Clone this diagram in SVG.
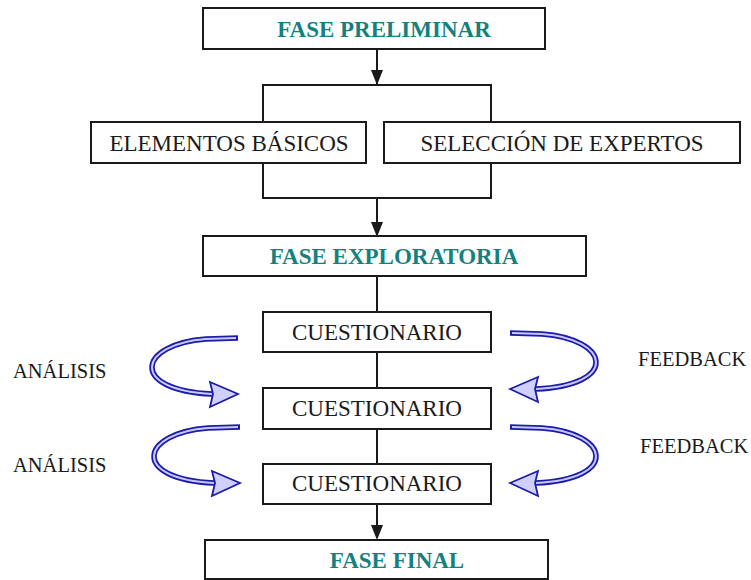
<svg xmlns="http://www.w3.org/2000/svg" width="751" height="580" viewBox="0 0 751 580">
<defs>
<style>
.box{fill:#fff;stroke:#1a1a1a;stroke-width:2}
.ln{fill:none;stroke:#1a1a1a;stroke-width:2}
.hd{font-family:"Liberation Serif","Times New Roman",serif;font-weight:bold;font-size:23px;fill:#168080;text-anchor:middle}
.tx{font-family:"Liberation Serif","Times New Roman",serif;font-size:23px;fill:#1a1a1a;text-anchor:middle}
.lb{font-family:"Liberation Serif","Times New Roman",serif;font-size:20.5px;fill:#1a1a1a}
.bo{fill:none;stroke:#1c1ca8;stroke-width:5.5;stroke-linecap:butt}
.bi{fill:none;stroke:#c8c8ff;stroke-width:2}
.ah{fill:#d0d0ff;stroke:#1c1ca8;stroke-width:1.8;stroke-linejoin:miter}
</style>
<marker id="arr" viewBox="0 0 12 14" refX="6" refY="14" markerWidth="12" markerHeight="14" markerUnits="userSpaceOnUse" orient="auto-start-reverse">
<path d="M0,0 L12,0 L6,14 Z" fill="#1a1a1a"/>
</marker>
<g id="curl">
<path class="bo" d="M238,338 L206,339 C138,344 128,390 212,394"/>
<path class="bi" d="M236,338 L206,339 C138,344 128,390 212,394"/>
<polygon class="ah" points="210,382 238,394 210,407 213,394"/>
</g>
</defs>
<rect width="751" height="580" fill="#fff"/>

<g id="connectors">
<line class="ln" x1="377" y1="49" x2="377" y2="84" style="marker-end:none"/>
<path d="M371,70 L383,70 L377,85 Z" fill="#1a1a1a"/>
<polyline class="ln" points="263,122 263,85 491,85 491,122"/>
<polyline class="ln" points="263,163 263,198 491,198 491,163"/>
<line class="ln" x1="377" y1="198" x2="377" y2="224"/>
<path d="M371,222 L383,222 L377,237 Z" fill="#1a1a1a"/>
<line class="ln" x1="377" y1="276" x2="377" y2="312"/>
<line class="ln" x1="377" y1="352" x2="377" y2="388"/>
<line class="ln" x1="377" y1="429" x2="377" y2="464"/>
<line class="ln" x1="377" y1="504" x2="377" y2="528"/>
<path d="M371,525 L383,525 L377,540 Z" fill="#1a1a1a"/>
</g>

<g id="feedback-arrows">
<use href="#curl"/>
<use href="#curl" transform="translate(2,89)"/>
<use href="#curl" transform="translate(748,-5) scale(-1,1)"/>
<use href="#curl" transform="translate(748,89) scale(-1,1)"/>
</g>

<g id="fase-preliminar">
<rect class="box" x="203" y="8" width="342" height="41"/>
<text class="hd" x="384" y="37">FASE PRELIMINAR</text>
</g>
<g id="elementos-basicos">
<rect class="box" x="91" y="122" width="275" height="41"/>
<text class="tx" x="229" y="151">ELEMENTOS BÁSICOS</text>
</g>
<g id="seleccion-expertos">
<rect class="box" x="384" y="122" width="356" height="41"/>
<text class="tx" x="562" y="151">SELECCIÓN DE EXPERTOS</text>
</g>
<g id="fase-exploratoria">
<rect class="box" x="203" y="236" width="383" height="40"/>
<text class="hd" x="394" y="264">FASE EXPLORATORIA</text>
</g>
<g id="cuestionario-1">
<rect class="box" x="263" y="312" width="228" height="40"/>
<text class="tx" x="377" y="340">CUESTIONARIO</text>
</g>
<g id="cuestionario-2">
<rect class="box" x="263" y="388" width="228" height="41"/>
<text class="tx" x="377" y="416">CUESTIONARIO</text>
</g>
<g id="cuestionario-3">
<rect class="box" x="263" y="464" width="228" height="40"/>
<text class="tx" x="377" y="491">CUESTIONARIO</text>
</g>
<g id="fase-final">
<rect class="box" x="205" y="540" width="343" height="39"/>
<text class="hd" x="397" y="568">FASE FINAL</text>
</g>

<g id="labels">
<text class="lb" x="13" y="378">ANÁLISIS</text>
<text class="lb" x="13" y="472">ANÁLISIS</text>
<text class="lb" x="638" y="366">FEEDBACK</text>
<text class="lb" x="640" y="453">FEEDBACK</text>
</g>
</svg>
